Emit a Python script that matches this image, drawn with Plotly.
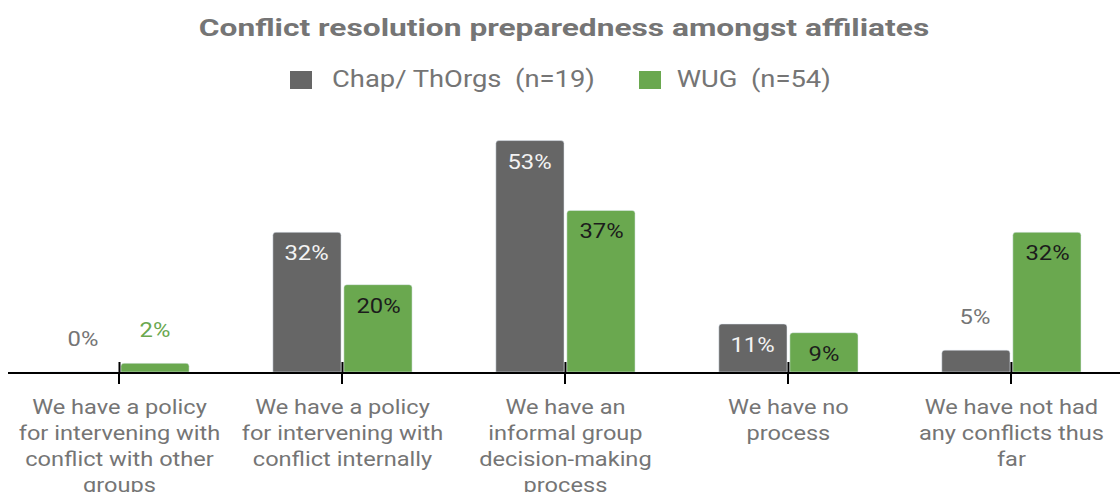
import json
import plotly.graph_objects as go

# Survey results: share of respondents per conflict-resolution approach
categories = [
    "Policy for other groups",
    "Policy internally",
    "Informal group process",
    "No process",
    "No conflicts",
]
tick_labels = [
    "We have a policy<br>for intervening with<br>conflict with other<br>groups",
    "We have a policy<br>for intervening with<br>conflict internally",
    "We have an<br>informal group<br>decision-making<br>process",
    "We have no<br>process",
    "We have not had<br>any conflicts thus<br>far",
]
series_names = ["Chap/ ThOrgs\u00a0\u00a0(n=19)", "WUG\u00a0\u00a0(n=54)"]
chap_values = [0, 32, 53, 11, 5]
wug_values = [2, 20, 37, 9, 32]

GRAY = "#666666"
GREEN = "#6aa84f"
TEXT_GRAY = "#757575"
FONT = "Roboto"

# plot area in pixels (used to place the hand-built legend in paper units)
W, H = 1120, 492
M_L, M_R, M_T, M_B = 8, 0, 110, 120
PW, PH = W - M_L - M_R, H - M_T - M_B


def px_x(px):
    return (px - M_L) / PW


def px_y(py):
    return (H - M_B - py) / PH


fig = go.Figure()

series = [
    (series_names[0], chap_values, GRAY, "#f3f3f3", TEXT_GRAY, -36),
    (series_names[1], wug_values, GREEN, "#1c1c1c", GREEN, 36),
]

for name, vals, color, inside_col, outside_col, xshift in series:
    fig.add_trace(go.Bar(
        x=categories, y=vals, name=name, marker_color=color,
        showlegend=False, hoverinfo="skip",
    ))
    # value labels: inside the top of tall bars, above short ones
    for cat, v in zip(categories, vals):
        inside = v >= 8
        fig.add_annotation(
            x=cat, y=v, xref="x", yref="y",
            text=f"{v}%", showarrow=False,
            xshift=xshift, yshift=-21 if inside else 33,
            yanchor="middle",
            font=dict(family=FONT, size=20,
                      color=inside_col if inside else outside_col),
        )

# legend: colour swatch + label for each series
legend_items = [
    (series_names[0], GRAY, (290, 312), 463),
    (series_names[1], GREEN, (639, 661), 753),
]
for name, color, (sx0, sx1), text_cx in legend_items:
    fig.add_shape(
        type="rect", xref="paper", yref="paper",
        x0=px_x(sx0), x1=px_x(sx1), y0=px_y(89), y1=px_y(71),
        fillcolor=color, line=dict(width=0),
    )
    fig.add_annotation(
        x=px_x(text_cx), y=px_y(80), xref="paper", yref="paper",
        text=name, showarrow=False, xanchor="center", yanchor="middle",
        font=dict(family=FONT, size=23, color=TEXT_GRAY),
    )

# small tick stubs rising above the baseline at each category
for cat in categories:
    fig.add_shape(
        type="line", xref="x", yref="y", x0=cat, x1=cat,
        ysizemode="pixel", yanchor=0, y0=0, y1=10,
        line=dict(color="#000000", width=2),
    )

fig.update_layout(
    width=W, height=H,
    margin=dict(l=M_L, r=M_R, t=M_T, b=M_B),
    paper_bgcolor="white", plot_bgcolor="white",
    barmode="group", bargap=0.363, bargroupgap=0.04,
    barcornerradius=3,
    showlegend=False,
    font=dict(family=FONT, color=TEXT_GRAY),
    title=dict(
        text="<b>Conflict resolution preparedness amongst affiliates</b>",
        x=0.5, xref="paper", xanchor="center",
        y=1 - 28 / H, yref="container", yanchor="middle",
        font=dict(family=FONT, size=24, color=TEXT_GRAY),
        automargin=False,
    ),
    xaxis=dict(
        type="category", range=[-0.5, 4.487],
        tickmode="array", tickvals=categories, ticktext=tick_labels,
        ticks="outside", ticklen=10, tickwidth=2, tickcolor="#000000",
        ticklabelstandoff=6, automargin=False,
        showline=True, linecolor="#000000", linewidth=2,
        showgrid=False, zeroline=False,
        tickfont=dict(family=FONT, size=20, color=TEXT_GRAY),
    ),
    yaxis=dict(
        range=[0, 60], visible=False, showgrid=False, zeroline=False,
        automargin=False,
    ),
)

# The typography is set wide: widen each text run horizontally
# (selector, width factor)
stretch_rules = [
    ["text.gtitle", 1.32],
    ["text.annotation-text", 1.19],
    [".xtick text", 1.18],
]

stretch_js = """
var gd = document.querySelector('.plotly-graph-div');
var rules = RULES;
function applyStretch() {
  rules.forEach(function (r) {
    gd.querySelectorAll(r[0]).forEach(function (t) {
      var lines = t.querySelectorAll('tspan.line');
      var els = lines.length ? Array.prototype.slice.call(lines) : [t];
      els.forEach(function (el) {
        if (!el.hasAttribute('data-base-len')) {
          el.setAttribute('data-base-len', el.getComputedTextLength());
        }
        var base = parseFloat(el.getAttribute('data-base-len'));
        if (base > 0) {
          el.setAttribute('textLength', (base * r[1]).toFixed(1));
          el.setAttribute('lengthAdjust', 'spacingAndGlyphs');
        }
      });
    });
  });
}
applyStretch();
gd.on('plotly_afterplot', applyStretch);
""".replace("RULES", json.dumps(stretch_rules))

fig.write_html("out.html", post_script=stretch_js)
